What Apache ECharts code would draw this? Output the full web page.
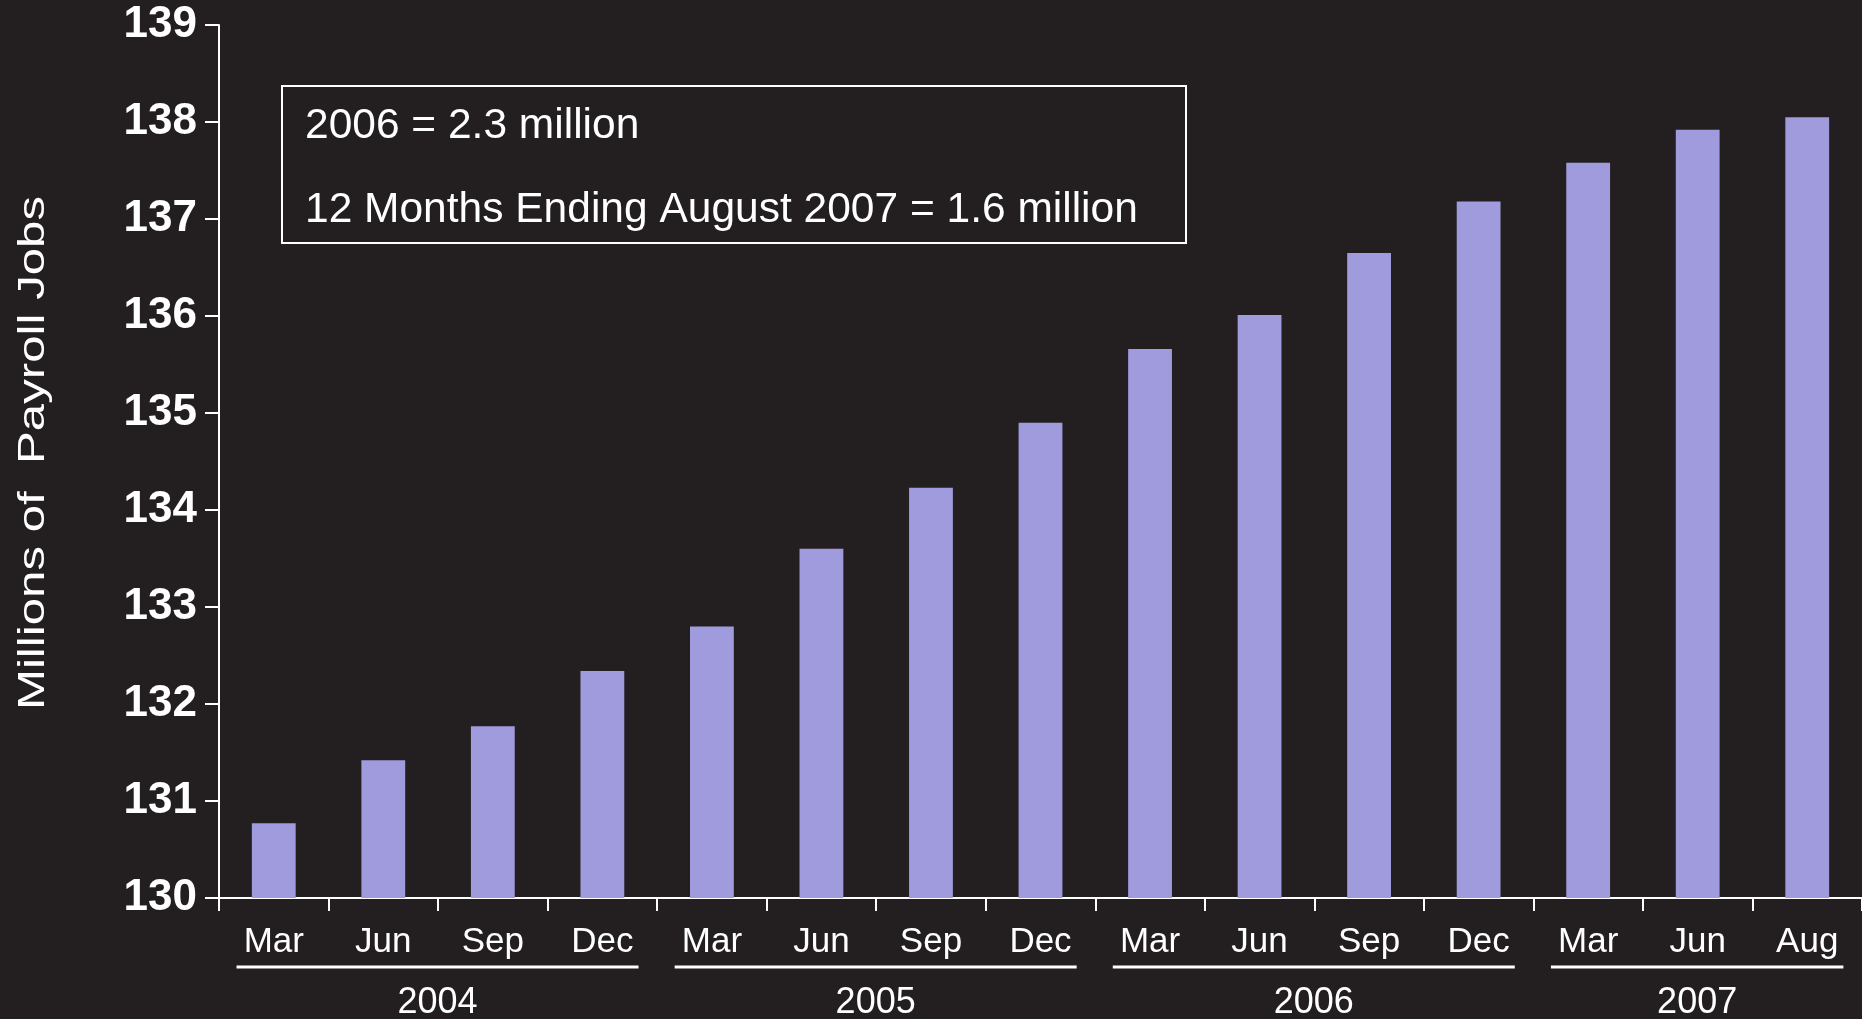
<!DOCTYPE html>
<html>
<head>
<meta charset="utf-8">
<script src="https://cdn.jsdelivr.net/npm/echarts@6/dist/echarts.min.js"></script>
<style>
  html, body { margin: 0; padding: 0; background: #231f20; }
  #chart { width: 1862px; height: 1019px; }
</style>
</head>
<body>
<div id="chart"></div>
<script>
// Quarterly payroll employment, millions of jobs
const months = ['Mar', 'Jun', 'Sep', 'Dec', 'Mar', 'Jun', 'Sep', 'Dec',
                'Mar', 'Jun', 'Sep', 'Dec', 'Mar', 'Jun', 'Aug'];
const payrollJobs = [130.77, 131.42, 131.77, 132.34, 132.80, 133.60, 134.23, 134.90,
                     135.66, 136.01, 136.65, 137.18, 137.58, 137.92, 138.05];
const years = ['2004', '2005', '2006', '2007'];
const monthsPerYear = [4, 4, 4, 3];
const yTicks = { min: 130, max: 139, step: 1 };
const yTitle = 'Millions of  Payroll Jobs';
const noteLines = ['2006 = 2.3 million', '12 Months Ending August 2007 = 1.6 million'];

const FONT = '"Liberation Sans", Arial, Helvetica, sans-serif';
const WHITE = '#ffffff';
const BAR = '#a09bdc';

const chart = echarts.init(document.getElementById('chart'));

chart.setOption({
  backgroundColor: '#231f20',
  animation: false,
  grid: { left: 219, right: 0, top: 25, bottom: 121, containLabel: false },
  xAxis: {
    type: 'category',
    data: months,
    boundaryGap: true,
    axisLine: { show: true, lineStyle: { color: WHITE, width: 2 } },
    axisTick: { show: true, length: 13, alignWithLabel: false, lineStyle: { color: WHITE, width: 2 } },
    axisLabel: { color: WHITE, fontFamily: FONT, fontSize: 35, margin: 27, interval: 0 },
    splitLine: { show: false }
  },
  yAxis: {
    type: 'value',
    min: yTicks.min,
    max: yTicks.max,
    interval: yTicks.step,
    axisLine: { show: true, lineStyle: { color: WHITE, width: 2 } },
    axisTick: { show: true, length: 14, lineStyle: { color: WHITE, width: 2 } },
    axisLabel: { color: WHITE, fontFamily: FONT, fontSize: 44, fontWeight: 'bold', margin: 22 },
    splitLine: { show: false }
  },
  series: [{
    type: 'bar',
    data: payrollJobs,
    barWidth: '40%',
    itemStyle: { color: BAR }
  }]
});

// Year groupings under the month labels, placed from the category axis
function overlayGraphics() {
  const els = [];
  let start = 0;
  const lineY = 967;
  const step = chart.convertToPixel({ xAxisIndex: 0 }, 1) - chart.convertToPixel({ xAxisIndex: 0 }, 0);
  years.forEach((yr, i) => {
    const end = start + monthsPerYear[i] - 1;
    const x0 = chart.convertToPixel({ xAxisIndex: 0 }, start);
    const x1 = chart.convertToPixel({ xAxisIndex: 0 }, end);
    const left = x0 - step * 0.34;
    const right = x1 + step * 0.33;
    els.push({
      type: 'line',
      shape: { x1: left, y1: lineY, x2: right, y2: lineY },
      style: { stroke: WHITE, lineWidth: 3 }
    });
    els.push({
      type: 'text',
      x: (left + right) / 2,
      y: 1003,
      style: {
        text: yr, fill: WHITE, font: '36px ' + FONT,
        textAlign: 'center', textVerticalAlign: 'middle'
      }
    });
    start = end + 1;
  });

  // Vertical axis title, slightly widened lettering
  els.push({
    type: 'text',
    x: 34, y: 453,
    rotation: Math.PI / 2,
    scaleX: 1.33,
    style: {
      text: yTitle, fill: WHITE, font: '37px ' + FONT,
      textAlign: 'center', textVerticalAlign: 'middle'
    }
  });

  // Annotation box
  els.push({
    type: 'rect',
    shape: { x: 282, y: 86, width: 904, height: 157 },
    style: { fill: 'none', stroke: WHITE, lineWidth: 2 }
  });
  els.push({
    type: 'text', x: 305, y: 126,
    style: { text: noteLines[0], fill: WHITE, font: '42.5px ' + FONT, textVerticalAlign: 'middle' }
  });
  els.push({
    type: 'text', x: 305, y: 210,
    style: { text: noteLines[1], fill: WHITE, font: '42.5px ' + FONT, textVerticalAlign: 'middle' }
  });
  return els;
}

chart.setOption({ graphic: overlayGraphics() });
</script>
</body>
</html>
